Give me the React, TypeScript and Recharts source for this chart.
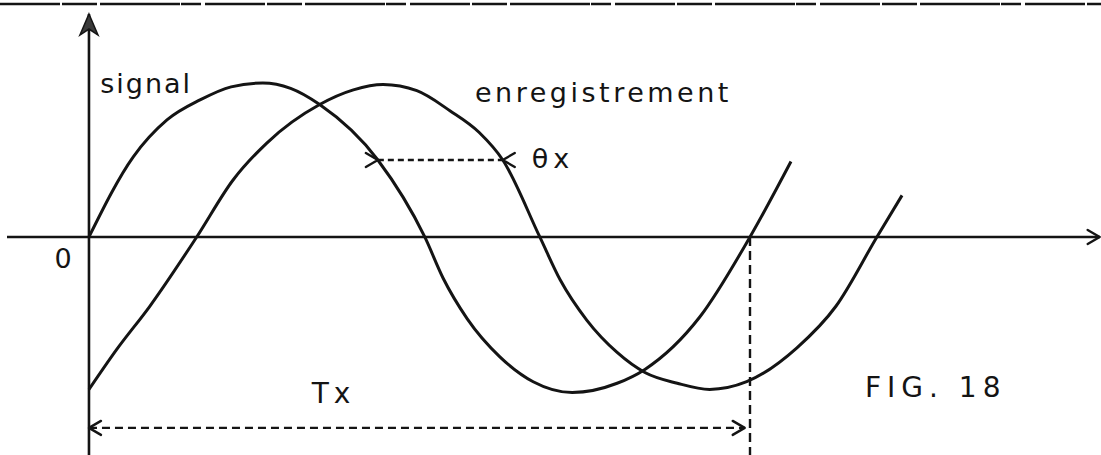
import { ComposedChart, Line, XAxis, YAxis, ReferenceLine, ReferenceDot } from 'recharts';

// time in units where the period Tx = 10, amplitude normalised to 1
const signalX = [0, 0.67, 1.18, 1.68, 2.15, 2.63, 3.05, 3.49, 4.37, 5.08, 5.36, 5.72, 6.22, 6.72, 7.31, 7.99, 8.41, 9.24, 10.0, 10.62];
const signalY = [0, 0.52, 0.76, 0.89, 0.975, 1.0, 0.965, 0.86, 0.5, 0, -0.27, -0.53, -0.78, -0.94, -1.01, -0.95, -0.86, -0.52, 0, 0.49];

const enregX = [0, 0.42, 0.92, 1.63, 2.18, 2.69, 3.49, 4.0, 4.45, 4.96, 5.46, 5.9, 6.26, 6.82, 7.13, 7.53, 7.99, 8.41, 8.9, 9.39, 9.95, 10.71, 11.3, 11.92, 12.3];
const enregY = [-0.99, -0.73, -0.45, 0, 0.37, 0.61, 0.86, 0.955, 0.99, 0.95, 0.82, 0.68, 0.5, 0, -0.28, -0.54, -0.75, -0.88, -0.95, -0.99, -0.94, -0.72, -0.45, 0, 0.27];

const TX = 10;
const THETA_START = 4.37;
const THETA_END = 6.26;
const THETA_LEVEL = 0.5;
const TX_LEVEL = -1.24;

const labels = [
  { text: 'signal', x: 0.17, y: 0.935, size: 27, spacing: 2 },
  { text: 'enregistrement', x: 5.84, y: 0.877, size: 27, spacing: 3.5 },
  { text: 'θx', x: 6.7, y: 0.448, size: 27, spacing: 5 },
  { text: '0', x: -0.52, y: -0.2, size: 27, spacing: 0 },
  { text: 'Tx', x: 3.37, y: -1.078, size: 28, spacing: 5 },
  { text: 'FIG. 18', x: 11.74, y: -1.04, size: 28, spacing: 6 },
];

const signalData = signalX.map((x, i) => ({ x, y: signalY[i] }));
const enregData = enregX.map((x, i) => ({ x, y: enregY[i] }));

const INK = '#141414';

type Head = 'none' | 'open-in' | 'open-out' | 'filled';

const arrowLine = (opts: { dash?: string; width?: number; start?: Head; end?: Head }) => (props: any) => {
  const { x1, y1, x2, y2 } = props;
  const w = opts.width ?? 2.6;
  const dx = x2 - x1;
  const dy = y2 - y1;
  const len = Math.hypot(dx, dy) || 1;
  const ux = dx / len;
  const uy = dy / len;
  const px = -uy;
  const py = ux;
  const head = (tx: number, ty: number, dir: number, kind: Head, key: string) => {
    if (kind === 'none') return null;
    if (kind === 'filled') {
      const bx = tx - dir * ux * 21;
      const by = ty - dir * uy * 21;
      const mx = tx - dir * ux * 15;
      const my = ty - dir * uy * 15;
      return (
        <path
          key={key}
          d={`M${tx},${ty} L${bx + px * 9},${by + py * 9} L${mx},${my} L${bx - px * 9},${by - py * 9} Z`}
          fill="#3a3a3a"
          stroke={INK}
          strokeWidth={1.5}
        />
      );
    }
    // open chevron; 'open-out' = arms behind the tip along the line, 'open-in' = arms outside the segment
    const s = kind === 'open-out' ? -dir : dir;
    const ax = tx + s * ux * 12;
    const ay = ty + s * uy * 12;
    return (
      <path
        key={key}
        d={`M${ax + px * 7},${ay + py * 7} L${tx},${ty} L${ax - px * 7},${ay - py * 7}`}
        fill="none"
        stroke={INK}
        strokeWidth={2.4}
        strokeLinejoin="round"
        strokeLinecap="round"
      />
    );
  };
  return (
    <g>
      <line x1={x1} y1={y1} x2={x2} y2={y2} stroke={INK} strokeWidth={w} strokeDasharray={opts.dash} />
      {head(x1, y1, -1, opts.start ?? 'none', 's')}
      {head(x2, y2, 1, opts.end ?? 'none', 'e')}
    </g>
  );
};

const textShape = (label: (typeof labels)[number]) => (props: any) => (
  <text
    x={props.cx}
    y={props.cy}
    fontFamily="'DejaVu Sans', sans-serif"
    fontSize={label.size}
    letterSpacing={label.spacing}
    fill={INK}
  >
    {label.text}
  </text>
);

export default function App() {
  return (
    <div style={{ position: 'absolute', left: 0, top: 0, width: 1101, height: 455, background: '#fff' }}>
      <ComposedChart width={1101} height={455} margin={{ top: 0, right: 0, bottom: 0, left: 0 }}>
        <XAxis type="number" dataKey="x" domain={[-1.346, 15.31]} hide allowDataOverflow />
        <YAxis type="number" dataKey="y" domain={[-1.416, 1.539]} hide allowDataOverflow />

        {/* scanned page edge */}
        <ReferenceLine
          segment={[{ x: -1.346, y: 1.513 }, { x: 15.31, y: 1.513 }]}
          shape={arrowLine({ dash: '60 2 35 3 80 1 20 4', width: 2.5 })}
          ifOverflow="visible"
        />

        {/* axes */}
        <ReferenceLine
          segment={[{ x: -1.24, y: 0 }, { x: 15.29, y: 0 }]}
          shape={arrowLine({ end: 'open-out', width: 2.6 })}
          ifOverflow="visible"
        />
        <ReferenceLine
          segment={[{ x: 0, y: -1.416 }, { x: 0, y: 1.448 }]}
          shape={arrowLine({ end: 'filled', width: 2.6 })}
          ifOverflow="visible"
        />

        {/* theta x and Tx dimension lines */}
        <ReferenceLine
          segment={[{ x: THETA_START, y: THETA_LEVEL }, { x: THETA_END, y: THETA_LEVEL }]}
          shape={arrowLine({ dash: '6 4', start: 'open-in', end: 'open-in', width: 2.4 })}
          ifOverflow="visible"
        />
        <ReferenceLine
          segment={[{ x: 0, y: TX_LEVEL }, { x: TX - 0.08, y: TX_LEVEL }]}
          shape={arrowLine({ dash: '8 5', start: 'open-out', end: 'open-out', width: 2.4 })}
          ifOverflow="visible"
        />
        <ReferenceLine
          segment={[{ x: TX, y: 0 }, { x: TX, y: -1.416 }]}
          shape={arrowLine({ dash: '9 5', width: 2.4 })}
          ifOverflow="visible"
        />

        <Line
          data={signalData}
          dataKey="y"
          type="monotone"
          stroke={INK}
          strokeWidth={3}
          dot={false}
          activeDot={false}
          isAnimationActive={false}
        />
        <Line
          data={enregData}
          dataKey="y"
          type="monotone"
          stroke={INK}
          strokeWidth={3}
          dot={false}
          activeDot={false}
          isAnimationActive={false}
        />

        {labels.map((l) => (
          <ReferenceDot key={l.text} x={l.x} y={l.y} r={0} shape={textShape(l)} ifOverflow="visible" />
        ))}
      </ComposedChart>
    </div>
  );
}
